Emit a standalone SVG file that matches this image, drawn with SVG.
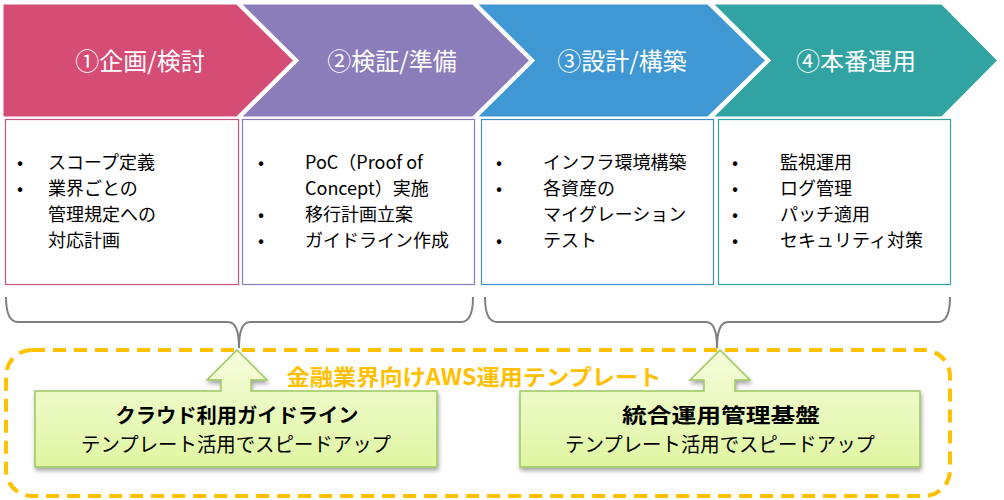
<svg xmlns="http://www.w3.org/2000/svg" width="1004" height="500" viewBox="0 0 1004 500">
<style>
.chev{stroke:#fff;stroke-width:3;stroke-linejoin:miter}
.ctitle{font-family:"Noto Sans CJK JP","Noto Sans",sans-serif;font-size:24px;fill:#fff;text-anchor:middle}
.box{fill:#fff;stroke-width:1.2}
.bt{font-family:"Noto Sans CJK JP","Noto Sans",sans-serif;font-size:18px;fill:#000}
.brace{fill:none;stroke:#7f7f7f;stroke-width:2}
.tpl{fill:url(#g);stroke:#9cc95f;stroke-width:1.5;filter:url(#sh)}
.tb{font-family:"Noto Sans CJK JP","Noto Sans",sans-serif;font-size:20px;font-weight:bold;fill:#000;text-anchor:middle}
.tn{font-family:"Noto Sans CJK JP","Noto Sans",sans-serif;font-size:20px;fill:#000;text-anchor:middle}
</style>
<defs>
<linearGradient id="g" x1="0" y1="0" x2="0" y2="1">
<stop offset="0" stop-color="#f6fcdc"/>
<stop offset="1" stop-color="#dff6a2"/>
</linearGradient>
<filter id="sh" x="-5%" y="-10%" width="110%" height="130%">
<feDropShadow dx="1" dy="3" stdDeviation="2" flood-color="#000" flood-opacity="0.35"/>
</filter>
</defs>
<g id="phase4">
<polygon class="chev" fill="#31a3a2" points="711,3 942,3 999,60.5 942,118 711,118 769,60.5"/>
<text class="ctitle" x="856" y="70">④本番運用</text>
</g>
<g id="phase3">
<polygon class="chev" fill="#3f97d3" points="475,3 708,3 767,60.5 708,118 475,118 533,60.5"/>
<text class="ctitle" x="622" y="70">③設計/構築</text>
</g>
<g id="phase2">
<polygon class="chev" fill="#8b7db9" points="239,3 473,3 531,60.5 473,118 239,118 297,60.5"/>
<text class="ctitle" x="392" y="70">②検証/準備</text>
</g>
<g id="phase1">
<polygon class="chev" fill="#d54c74" points="2,3 237,3 295,60.5 237,118 2,118"/>
<text class="ctitle" x="140" y="70">①企画/検討</text>
</g>
<g id="box1">
<rect class="box" stroke="#c9557d" x="5.5" y="119.5" width="233" height="165"/>
<text class="bt" x="17" y="169">•</text><text class="bt" x="48" y="169">スコープ定義</text>
<text class="bt" x="17" y="195">•</text><text class="bt" x="48" y="195">業界ごとの</text>
<text class="bt" x="48" y="221">管理規定への</text>
<text class="bt" x="48" y="247">対応計画</text>
</g>
<g id="box2">
<rect class="box" stroke="#8b7db9" x="242.5" y="119.5" width="232" height="165"/>
<text class="bt" x="258" y="169">•</text><text class="bt" x="305" y="169">PoC（Proof of</text>
<text class="bt" x="305" y="195">Concept）実施</text>
<text class="bt" x="258" y="221">•</text><text class="bt" x="305" y="221">移行計画立案</text>
<text class="bt" x="258" y="247">•</text><text class="bt" x="305" y="247">ガイドライン作成</text>
</g>
<g id="box3">
<rect class="box" stroke="#3f8fc0" x="481.5" y="119.5" width="232" height="165"/>
<text class="bt" x="496" y="169">•</text><text class="bt" x="543" y="169">インフラ環境構築</text>
<text class="bt" x="496" y="195">•</text><text class="bt" x="543" y="195">各資産の</text>
<text class="bt" x="543" y="221">マイグレーション</text>
<text class="bt" x="496" y="247">•</text><text class="bt" x="543" y="247">テスト</text>
</g>
<g id="box4">
<rect class="box" stroke="#31a3a2" x="718.5" y="119.5" width="232" height="165"/>
<text class="bt" x="732" y="169">•</text><text class="bt" x="780" y="169">監視運用</text>
<text class="bt" x="732" y="195">•</text><text class="bt" x="780" y="195">ログ管理</text>
<text class="bt" x="732" y="221">•</text><text class="bt" x="780" y="221">パッチ適用</text>
<text class="bt" x="732" y="247">•</text><text class="bt" x="780" y="247">セキュリティ対策</text>
</g>
<g id="connectors">
<path class="brace" d="M6,297 Q6,322 18,322 L228,322 Q239,322 239,348 Q239,322 250,322 L461,322 Q473,322 473,297"/>
<path class="brace" d="M485,297 Q485,322 497,322 L706,322 Q717,322 717,348 Q717,322 728,322 L938,322 Q950,322 950,297"/>
</g>
<g id="template-frame">
<rect x="6" y="350" width="944" height="146" rx="26" fill="none" stroke="#ffc000" stroke-width="4" stroke-dasharray="13 8"/>
<text x="474" y="385" font-family="'Noto Sans CJK JP','Noto Sans',sans-serif" font-size="22" font-weight="bold" fill="#ffc000" text-anchor="middle" textLength="375" lengthAdjust="spacingAndGlyphs">金融業界向けAWS運用テンプレート</text>
</g>
<g id="tpl1">
<path class="tpl" d="M35,391 L221,391 L221,380 L207,380 L237,350 L267,380 L251,380 L251,391 L437,391 L437,467 L35,467 Z"/>
<text class="tb" x="237" y="423" textLength="243" lengthAdjust="spacingAndGlyphs">クラウド利用ガイドライン</text>
<text class="tn" x="236" y="452" textLength="310" lengthAdjust="spacingAndGlyphs">テンプレート活用でスピードアップ</text>
</g>
<g id="tpl2">
<path class="tpl" d="M520,391 L704,391 L704,380 L690,380 L720,350 L750,380 L735,380 L735,391 L920,391 L920,467 L520,467 Z"/>
<text class="tb" x="721" y="423" textLength="198" lengthAdjust="spacingAndGlyphs">統合運用管理基盤</text>
<text class="tn" x="720" y="452" textLength="310" lengthAdjust="spacingAndGlyphs">テンプレート活用でスピードアップ</text>
</g>
</svg>
